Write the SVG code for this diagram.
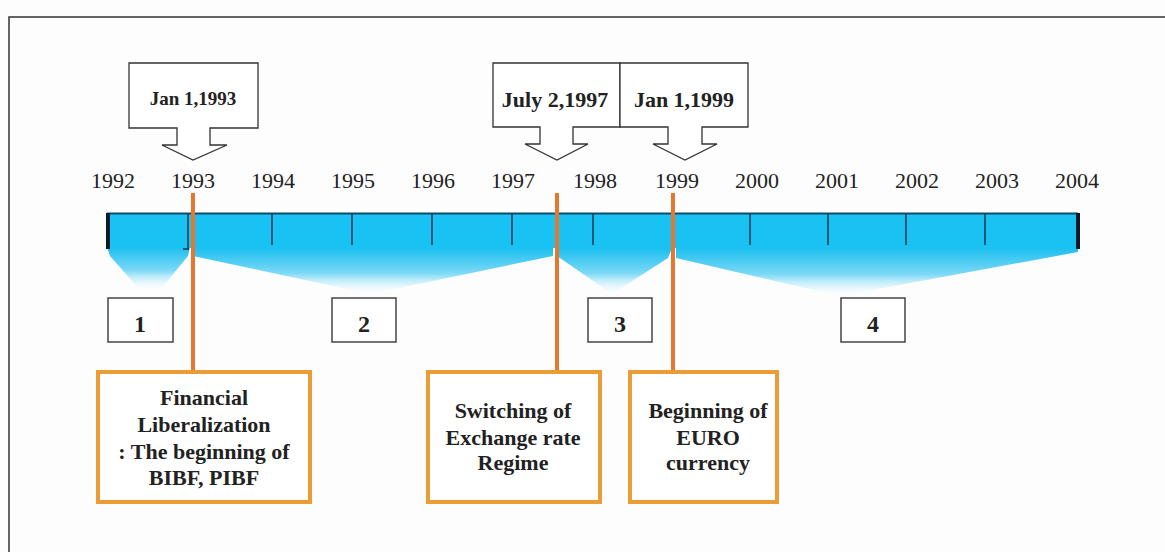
<svg xmlns="http://www.w3.org/2000/svg" width="1165" height="552" viewBox="0 0 1165 552">
<defs>
<linearGradient id="fade" x1="0" y1="0" x2="0" y2="1">
<stop offset="0" stop-color="#1cbff0"/>
<stop offset="0.55" stop-color="#7dd9f6"/>
<stop offset="1" stop-color="#ffffff" stop-opacity="0.2"/>
</linearGradient>
<style>
.yr{font-family:"Liberation Serif",serif;font-size:22px;fill:#222;text-anchor:middle}
.bt{font-family:"Liberation Serif",serif;font-weight:bold;font-size:22px;fill:#222;text-anchor:middle}
.cl{font-family:"Liberation Serif",serif;font-weight:bold;font-size:22px;fill:#222;text-anchor:middle}
.call{fill:#fff;stroke:#333;stroke-width:1.3}
.tick{stroke:#0b3550;stroke-width:1.5}
.ol{stroke:#e5782a;stroke-width:4;fill:none}
.ob{fill:#fff;stroke:#eb9c34;stroke-width:4}
.nb{fill:#fff;stroke:#444;stroke-width:1.5}
</style>
</defs>
<rect x="0" y="0" width="1165" height="552" fill="#fdfdfd"/>
<rect x="9" y="17" width="1170" height="550" fill="none" stroke="#333" stroke-width="1.5"/>

<g id="timeline">
<path d="M107,247 L190,247 L188,256 L160,290 L140,290 L110,256 Z" fill="url(#fade)"/>
<path d="M193,248 L553,248 L553,256 L370,294 L193,256 Z" fill="url(#fade)"/>
<path d="M557,248 L672,248 L668,258 L612,294 L557,256 Z" fill="url(#fade)"/>
<path d="M676,248 L1078,248 L1078,252 L840,296 L676,258 Z" fill="url(#fade)"/>
<rect x="107" y="213" width="971" height="35" fill="#19c2f2"/>
<line x1="107" y1="213.5" x2="1078" y2="213.5" stroke="#0f4d6e" stroke-width="2"/>
<rect x="106" y="213" width="4" height="36" fill="#0a1a2a"/>
<rect x="1076" y="213" width="4" height="36" fill="#0a1a2a"/>
<g class="tick">
<line x1="188" y1="214" x2="188" y2="249"/><line x1="183" y1="249" x2="189" y2="249"/>
<line x1="272" y1="214" x2="272" y2="245"/>
<line x1="352" y1="214" x2="352" y2="245"/>
<line x1="432" y1="214" x2="432" y2="245"/>
<line x1="512" y1="214" x2="512" y2="245"/>
<line x1="593" y1="214" x2="593" y2="245"/>
<line x1="750" y1="214" x2="750" y2="245"/>
<line x1="828" y1="214" x2="828" y2="245"/>
<line x1="906" y1="214" x2="906" y2="245"/>
<line x1="985" y1="214" x2="985" y2="245"/>
</g>
<g>
<text class="yr" x="113" y="188">1992</text>
<text class="yr" x="193" y="188">1993</text>
<text class="yr" x="273" y="188">1994</text>
<text class="yr" x="353" y="188">1995</text>
<text class="yr" x="433" y="188">1996</text>
<text class="yr" x="513" y="188">1997</text>
<text class="yr" x="595" y="188">1998</text>
<text class="yr" x="677" y="188">1999</text>
<text class="yr" x="757" y="188">2000</text>
<text class="yr" x="837" y="188">2001</text>
<text class="yr" x="917" y="188">2002</text>
<text class="yr" x="997" y="188">2003</text>
<text class="yr" x="1077" y="188">2004</text>
</g>
</g>

<g id="connectors">
<line class="ol" x1="193" y1="193" x2="193" y2="372"/>
<line class="ol" x1="557" y1="193" x2="557" y2="372"/>
<line class="ol" x1="673" y1="193" x2="673" y2="372"/>
</g>

<g id="callout-1993">
<path class="call" d="M129,63 H258 V128 H210 V145 H227 L193,160 L162,145 H177 V128 H129 Z"/>
<text class="cl" x="193" y="105" style="font-size:19px">Jan 1,1993</text>
</g>
<g id="callout-1997">
<path class="call" d="M493,63 H620 V127 H573 V144 H588 L557,160 L525,144 H540 V127 H493 Z"/>
<text class="cl" x="555" y="107">July 2,1997</text>
</g>
<g id="callout-1999">
<path class="call" d="M620,63 H748 V127 H702 V144 H717 L685,160 L653,144 H668 V127 H620 Z"/>
<text class="cl" x="684" y="107">Jan 1,1999</text>
</g>

<g id="period-1"><rect class="nb" x="108" y="298" width="65" height="44"/><text class="bt" x="140" y="332" style="font-size:24px">1</text></g>
<g id="period-2"><rect class="nb" x="332" y="298" width="64" height="44"/><text class="bt" x="364" y="332" style="font-size:24px">2</text></g>
<g id="period-3"><rect class="nb" x="588" y="298" width="64" height="44"/><text class="bt" x="620" y="332" style="font-size:24px">3</text></g>
<g id="period-4"><rect class="nb" x="841" y="298" width="64" height="44"/><text class="bt" x="873" y="332" style="font-size:24px">4</text></g>

<g id="event-1">
<rect class="ob" x="98" y="372" width="212" height="130"/>
<text class="bt" x="204" y="405">Financial</text>
<text class="bt" x="204" y="432">Liberalization</text>
<text class="bt" x="204" y="459">: The beginning of</text>
<text class="bt" x="204" y="485">BIBF, PIBF</text>
</g>
<g id="event-2">
<rect class="ob" x="428" y="372" width="172" height="130"/>
<text class="bt" x="513" y="418">Switching of</text>
<text class="bt" x="513" y="445">Exchange rate</text>
<text class="bt" x="513" y="470">Regime</text>
</g>
<g id="event-3">
<rect class="ob" x="630" y="372" width="147" height="130"/>
<text class="bt" x="708" y="418">Beginning of</text>
<text class="bt" x="708" y="445">EURO</text>
<text class="bt" x="708" y="470">currency</text>
</g>
</svg>
